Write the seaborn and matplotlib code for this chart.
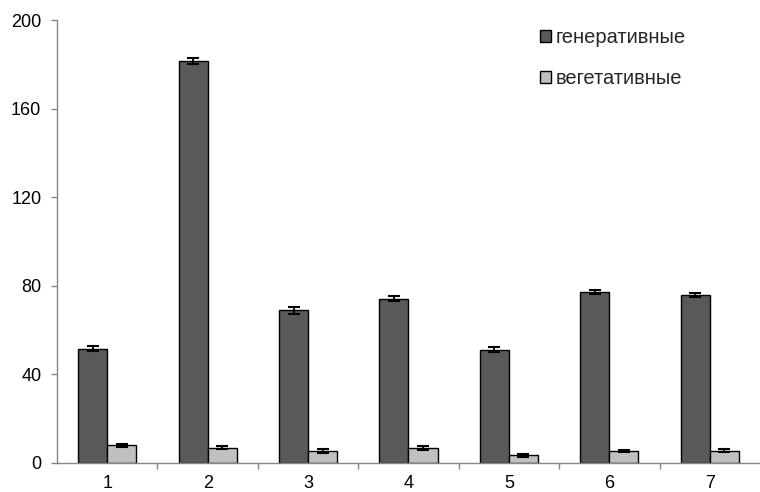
import numpy as np
import pandas as pd
import matplotlib
matplotlib.use("Agg")
import matplotlib.pyplot as plt
import seaborn as sns
from matplotlib.ticker import FixedLocator

categories = ["1", "2", "3", "4", "5", "6", "7"]
series = ["генеративные", "вегетативные"]
gen_values = [51.7, 181.5, 68.9, 74.2, 51.2, 77.2, 76.0]
veg_values = [8.0, 6.9, 5.3, 6.8, 3.5, 5.4, 5.6]
gen_err = [1.2, 1.3, 1.4, 1.0, 1.0, 0.9, 0.9]
veg_err = [0.7, 0.7, 0.8, 0.8, 0.6, 0.6, 0.7]
yticks = [0, 40, 80, 120, 160, 200]

df = pd.DataFrame({
    "cat": categories * 2,
    "series": [series[0]] * 7 + [series[1]] * 7,
    "value": gen_values + veg_values,
})

sns.set_theme(style="white")
plt.rcParams["font.family"] = ["Liberation Sans", "DejaVu Sans"]

fig = plt.figure(figsize=(7.6, 4.92), dpi=100)
ax = fig.add_axes([0.075, 0.059, 0.925, 0.900])

palette = {series[0]: "#595959", series[1]: "#c0c0c0"}
sns.barplot(data=df, x="cat", y="value", hue="series", order=categories,
            hue_order=series, palette=palette, width=0.58, errorbar=None,
            edgecolor="black", linewidth=1.0, saturation=1, ax=ax)

# error bars
bars = list(ax.patches)[:14]
errs = gen_err + veg_err
vals = gen_values + veg_values
for p, v, e in zip(bars, vals, errs):
    xc = p.get_x() + p.get_width() / 2
    ax.errorbar(xc, v, yerr=e, fmt="none", ecolor="black", elinewidth=1.3,
                capsize=4.5, capthick=1.5)

ax.set_ylim(0, 200)
ax.set_xlim(-0.5, 6.5)
ax.set_yticks(yticks)
ax.set_xlabel("")
ax.set_ylabel("")

for s in ["top", "right"]:
    ax.spines[s].set_visible(False)
for s in ["left", "bottom"]:
    ax.spines[s].set_color("#868686")
    ax.spines[s].set_linewidth(1.0)

ax.tick_params(axis="y", which="major", left=True, length=4.3, width=1.0,
               color="#868686", labelsize=13, pad=7, labelcolor="black")
ax.tick_params(axis="x", which="major", bottom=False, length=0, labelsize=13,
               pad=8.5, labelcolor="black")
ax.xaxis.set_minor_locator(FixedLocator(np.arange(0.5, 6.5, 1.0)))
ax.tick_params(axis="x", which="minor", bottom=True, length=4, width=1.0,
               color="#868686", direction="out")

leg = ax.legend(loc="upper left", bbox_to_anchor=(0.675, 1.0), frameon=False,
                fontsize=14.5, handlelength=0.55, handleheight=0.55,
                handletextpad=0.25, labelspacing=1.1, borderaxespad=0)
for h in leg.legend_handles:
    h.set_edgecolor("black")
    h.set_linewidth(1.0)

fig.savefig("out.png", dpi=100)
